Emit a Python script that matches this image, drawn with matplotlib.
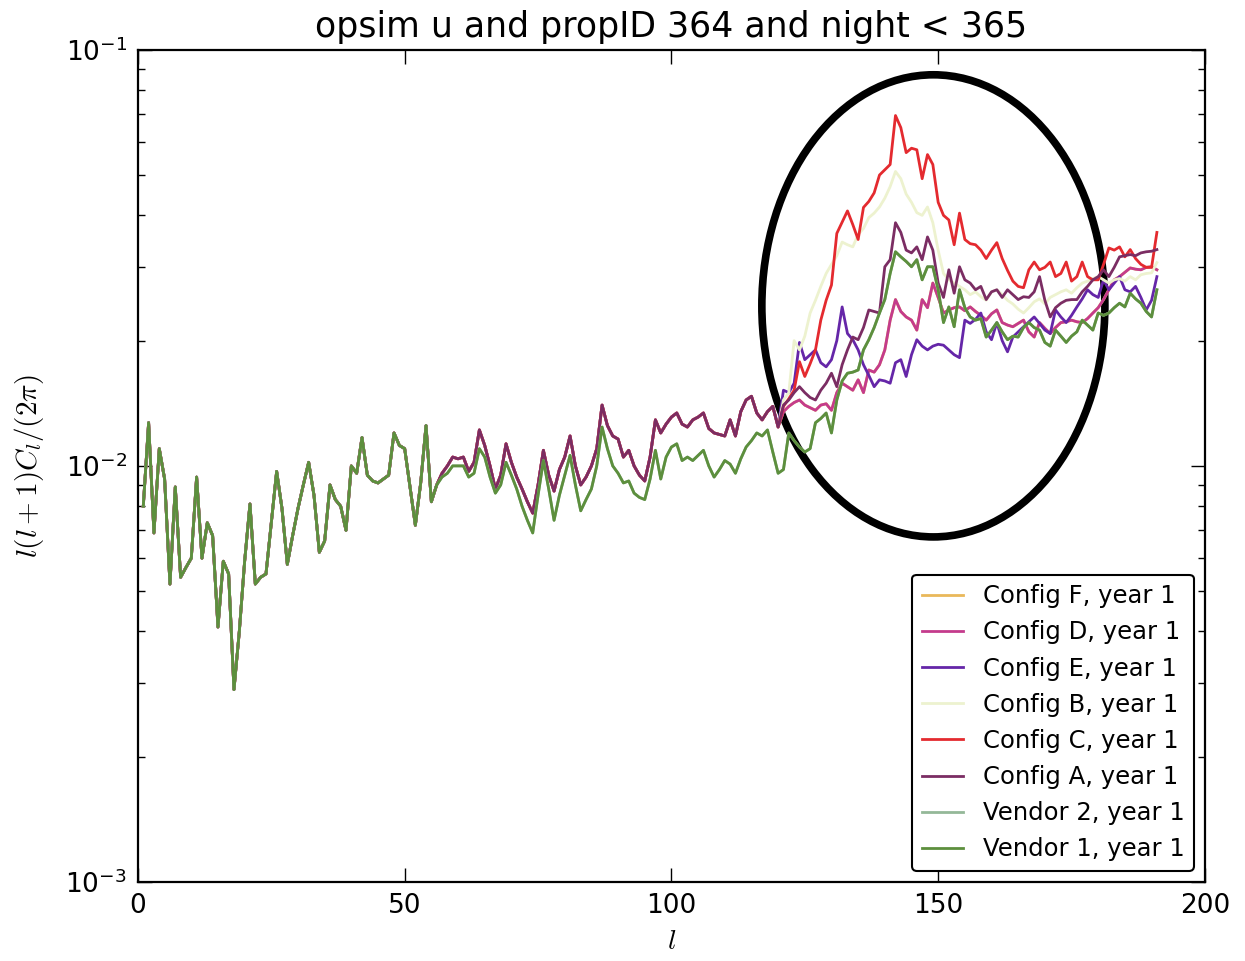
import matplotlib
matplotlib.use('Agg')
import matplotlib.patches as patches
import matplotlib.pyplot as plt
import numpy as np

plt.rcParams['mathtext.fontset'] = 'cm'

# multipoles shown on the plot (l = 0 is zero, so it drops out on a log axis)
ell = np.arange(1, 192)

# l = 1..56, where every run sits on top of the others
common_low = [
    0.0080, 0.0127, 0.0069, 0.0110, 0.0093, 0.0052, 0.0089, 0.0054, 0.0057, 0.0060,
    0.0094, 0.0060, 0.0073, 0.0068, 0.0041, 0.0059, 0.0055, 0.0029, 0.0040, 0.0059,
    0.0081, 0.0052, 0.0054, 0.0055, 0.0073, 0.0097, 0.0079, 0.0058, 0.0068, 0.0079,
    0.0090, 0.0102, 0.0085, 0.0062, 0.0066, 0.0090, 0.0083, 0.0080, 0.0070, 0.0100,
    0.0096, 0.0117, 0.0095, 0.0092, 0.0091, 0.0093, 0.0095, 0.0120, 0.0112, 0.0110,
    0.0089, 0.0072, 0.0091, 0.0125, 0.0082, 0.0090,
]

# l = 57..120, configs stay together, vendors run a bit lower
config_mid = [
    0.0096, 0.0100, 0.0105, 0.0104,
    0.0105, 0.0097, 0.0102, 0.0122, 0.0112, 0.0100, 0.0088, 0.0095, 0.0113, 0.0102,
    0.0094, 0.0088, 0.0082, 0.0077, 0.0090, 0.0109, 0.0095, 0.0087, 0.0098, 0.0105,
    0.0118, 0.0100, 0.0090, 0.0094, 0.0100, 0.0110, 0.0140, 0.0125, 0.0118, 0.0116,
    0.0105, 0.0109, 0.0100, 0.0095, 0.0092, 0.0105, 0.0129, 0.0120, 0.0126, 0.0131,
    0.0134, 0.0126, 0.0124, 0.0129, 0.0131, 0.0134, 0.0123, 0.0120, 0.0119, 0.0118,
    0.0129, 0.0118, 0.0135, 0.0144, 0.0147, 0.0134, 0.0129, 0.0135, 0.0139, 0.0124,
]
vendor_mid = [
    0.0094, 0.0096, 0.0100, 0.0100,
    0.0100, 0.0094, 0.0096, 0.0110, 0.0105, 0.0094, 0.0086, 0.0090, 0.0102, 0.0095,
    0.0088, 0.0080, 0.0074, 0.0069, 0.0085, 0.0103, 0.0088, 0.0074, 0.0085, 0.0095,
    0.0106, 0.0090, 0.0078, 0.0083, 0.0088, 0.0100, 0.0124, 0.0110, 0.0100, 0.0096,
    0.0091, 0.0092, 0.0086, 0.0084, 0.0083, 0.0093, 0.0109, 0.0093, 0.0105, 0.0111,
    0.0113, 0.0103, 0.0105, 0.0103, 0.0106, 0.0109, 0.0100, 0.0094, 0.0098, 0.0103,
    0.0101, 0.0096, 0.0104, 0.0111, 0.0115, 0.0120, 0.0118, 0.0122, 0.0108, 0.0096,
]

# l = 121..191, where the runs split apart
tail_d = [
    0.0135, 0.0139, 0.0142, 0.0144, 0.0140, 0.0138, 0.0136, 0.0140, 0.0141, 0.0136,
    0.0150, 0.0158, 0.0155, 0.0152, 0.0161, 0.0150, 0.0170, 0.0168, 0.0175, 0.0190,
    0.0224, 0.0251, 0.0235, 0.0228, 0.0224, 0.0212, 0.0251, 0.0240, 0.0275, 0.0254,
    0.0233, 0.0237, 0.0240, 0.0241, 0.0236, 0.0241, 0.0235, 0.0230, 0.0224, 0.0232,
    0.0237, 0.0221, 0.0218, 0.0216, 0.0220, 0.0224, 0.0210, 0.0204, 0.0221, 0.0214,
    0.0208, 0.0215, 0.0221, 0.0222, 0.0224, 0.0222, 0.0221, 0.0226, 0.0233, 0.0240,
    0.0251, 0.0265, 0.0280, 0.0285, 0.0292, 0.0299, 0.0297, 0.0296, 0.0300, 0.0301,
    0.0296,
]
tail_e = [
    0.0152, 0.0150, 0.0158, 0.0198, 0.0180, 0.0185, 0.0190, 0.0177, 0.0173, 0.0180,
    0.0200, 0.0241, 0.0208, 0.0201, 0.0190, 0.0175, 0.0165, 0.0155, 0.0161, 0.0160,
    0.0158, 0.0177, 0.0180, 0.0164, 0.0185, 0.0201, 0.0194, 0.0190, 0.0194, 0.0196,
    0.0195, 0.0190, 0.0185, 0.0182, 0.0224, 0.0220, 0.0225, 0.0233, 0.0210, 0.0201,
    0.0221, 0.0200, 0.0188, 0.0204, 0.0210, 0.0216, 0.0222, 0.0228, 0.0220, 0.0212,
    0.0208, 0.0237, 0.0228, 0.0221, 0.0230, 0.0241, 0.0252, 0.0265, 0.0258, 0.0254,
    0.0280, 0.0265, 0.0275, 0.0285, 0.0265, 0.0262, 0.0270, 0.0254, 0.0237, 0.0250,
    0.0285,
]
tail_b = [
    0.0144, 0.0150, 0.0200, 0.0190, 0.0205, 0.0233, 0.0250, 0.0270, 0.0290, 0.0305,
    0.0320, 0.0345, 0.0340, 0.0336, 0.0360, 0.0372, 0.0395, 0.0405, 0.0419, 0.0440,
    0.0469, 0.0510, 0.0490, 0.0450, 0.0430, 0.0406, 0.0400, 0.0419, 0.0384, 0.0330,
    0.0290, 0.0280, 0.0275, 0.0270, 0.0265, 0.0258, 0.0262, 0.0255, 0.0250, 0.0262,
    0.0265, 0.0258, 0.0250, 0.0245, 0.0238, 0.0233, 0.0240, 0.0248, 0.0252, 0.0245,
    0.0254, 0.0258, 0.0262, 0.0265, 0.0260, 0.0268, 0.0275, 0.0278, 0.0282, 0.0285,
    0.0280, 0.0275, 0.0280, 0.0282, 0.0278, 0.0285, 0.0280, 0.0288, 0.0290, 0.0291,
    0.0308,
]
tail_c = [
    0.0139, 0.0145, 0.0152, 0.0178, 0.0164, 0.0176, 0.0190, 0.0224, 0.0250, 0.0272,
    0.0362, 0.0385, 0.0410, 0.0380, 0.0350, 0.0418, 0.0432, 0.0453, 0.0500, 0.0515,
    0.0530, 0.0695, 0.0650, 0.0566, 0.0580, 0.0575, 0.0490, 0.0560, 0.0530, 0.0430,
    0.0400, 0.0390, 0.0340, 0.0405, 0.0350, 0.0342, 0.0340, 0.0330, 0.0315, 0.0330,
    0.0344, 0.0315, 0.0295, 0.0278, 0.0270, 0.0268, 0.0296, 0.0309, 0.0296, 0.0300,
    0.0309, 0.0285, 0.0290, 0.0309, 0.0278, 0.0285, 0.0309, 0.0285, 0.0280, 0.0280,
    0.0305, 0.0334, 0.0330, 0.0336, 0.0318, 0.0331, 0.0315, 0.0305, 0.0300, 0.0300,
    0.0364,
]
tail_a = [
    0.0140, 0.0144, 0.0150, 0.0155, 0.0150, 0.0146, 0.0144, 0.0152, 0.0158, 0.0167,
    0.0155, 0.0175, 0.0190, 0.0204, 0.0201, 0.0215, 0.0237, 0.0235, 0.0233, 0.0301,
    0.0313, 0.0384, 0.0364, 0.0330, 0.0325, 0.0336, 0.0313, 0.0355, 0.0330, 0.0275,
    0.0254, 0.0296, 0.0260, 0.0301, 0.0280, 0.0275, 0.0265, 0.0270, 0.0251, 0.0262,
    0.0265, 0.0254, 0.0265, 0.0258, 0.0251, 0.0255, 0.0254, 0.0262, 0.0285, 0.0250,
    0.0228, 0.0240, 0.0246, 0.0250, 0.0251, 0.0251, 0.0262, 0.0270, 0.0280, 0.0285,
    0.0296, 0.0285, 0.0300, 0.0318, 0.0320, 0.0322, 0.0320, 0.0325, 0.0327, 0.0328,
    0.0331,
]
tail_v1 = [
    0.0098, 0.0120, 0.0115, 0.0111, 0.0108, 0.0110, 0.0127, 0.0130, 0.0134, 0.0120,
    0.0144, 0.0160, 0.0167, 0.0168, 0.0170, 0.0190, 0.0201, 0.0215, 0.0233, 0.0251,
    0.0290, 0.0327, 0.0318, 0.0310, 0.0301, 0.0313, 0.0280, 0.0301, 0.0301, 0.0265,
    0.0221, 0.0241, 0.0216, 0.0265, 0.0240, 0.0228, 0.0224, 0.0226, 0.0204, 0.0212,
    0.0221, 0.0210, 0.0201, 0.0205, 0.0204, 0.0215, 0.0221, 0.0215, 0.0212, 0.0198,
    0.0194, 0.0212, 0.0205, 0.0198, 0.0205, 0.0210, 0.0224, 0.0218, 0.0212, 0.0233,
    0.0230, 0.0233, 0.0240, 0.0246, 0.0241, 0.0260, 0.0252, 0.0246, 0.0235, 0.0228,
    0.0265,
]

labels = ['Config F, year 1', 'Config D, year 1', 'Config E, year 1', 'Config B, year 1',
          'Config C, year 1', 'Config A, year 1', 'Vendor 2, year 1', 'Vendor 1, year 1']
colors = ['#e9b85a', '#c43b8c', '#6526a8', '#edf2cf', '#e42a2f', '#7b2d63', '#94b898', '#5d8f3d']
# F sits under D and Vendor 2 under Vendor 1 in the original
pieces = [
    (config_mid, tail_d), (config_mid, tail_d), (config_mid, tail_e), (config_mid, tail_b),
    (config_mid, tail_c), (config_mid, tail_a), (vendor_mid, tail_v1), (vendor_mid, tail_v1),
]

fig = plt.figure(figsize=(12.45, 9.61), dpi=100)
ax = fig.add_axes([0.1108, 0.0822, 0.857, 0.866])

for label, color, (mid, tail) in zip(labels, colors, pieces):
    cl = np.array(common_low + mid + tail)
    ax.plot(ell, cl, color=color, lw=2.0, label=label)

ax.set_yscale('log')
ax.set_xlim(0, 200)
ax.set_ylim(1e-3, 1e-1)
ax.set_xticks([0, 50, 100, 150, 200])
ax.tick_params(which='both', direction='in', top=True, right=True, labelsize=19, pad=8)
ax.tick_params(which='major', length=10, width=1)
ax.tick_params(which='minor', length=5, width=1)
for spine in ax.spines.values():
    spine.set_linewidth(1.6)

ax.set_title('opsim u and propID 364 and night < 365', fontsize=25, pad=9)
ax.set_xlabel(r'$l$', fontsize=20, labelpad=6)
ax.set_ylabel(r'$l(l+1)C_l/(2\pi)$', fontsize=21, labelpad=14)

leg = ax.legend(loc='lower right', fontsize=17.5, handlelength=1.7, borderaxespad=0.45,
                fancybox=True, framealpha=1)
leg.get_frame().set_edgecolor('black')
leg.get_frame().set_linewidth(1.5)

# the hand-drawn highlight around the high-l bump
ring = patches.Ellipse((0.7455, 0.6923), 0.3215, 0.5553, transform=ax.transAxes,
                       fill=False, edgecolor='black', lw=5.5)
ax.add_patch(ring)

fig.savefig('out.png', dpi=100)
